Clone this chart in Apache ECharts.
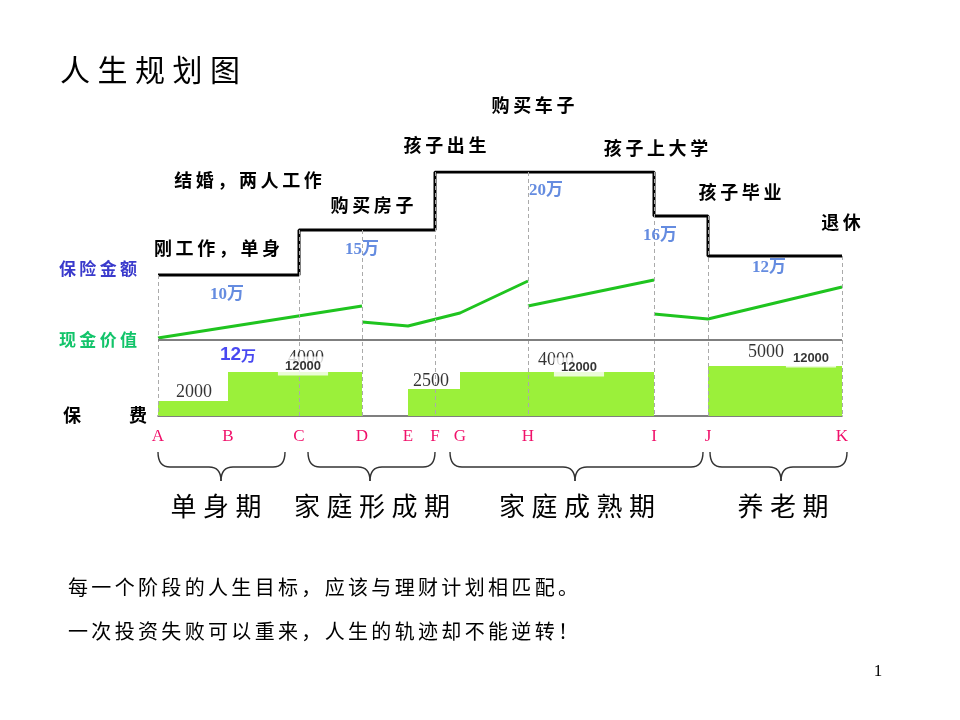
<!DOCTYPE html>
<html><head><meta charset="utf-8">
<script src="https://cdn.jsdelivr.net/npm/echarts@6/dist/echarts.min.js"></script>
<style>html,body{margin:0;padding:0;background:#fff}#c{width:960px;height:720px}</style>
</head><body><div id="c"></div>
<script>
// ---- data (schematic heights) ----
const letters = ['A','B','C','D','E','F','G','H','I','J','K'];
const letterX = [0,70,141,204,250,277,302,370,496,550,684];

// 保险金额 (insurance amount) steps
const insuranceAt = ['A','C','F','I','J','K'];
const insuranceLevel = [141,186,244,200,160,160];
const insuranceLabels = ['10万','15万','20万','16万','12万'];

// 现金价值 (cash value) segments
const cashSeg1 = [['A',78],['D',110]];
const cashSeg2 = [['D',94],['E',90],['G',103],['H',135]];
const cashSeg3 = [['H',110],['I',136]];
const cashSeg4 = [['I',102],['J',97],['K',129]];
const cashBaseline = 76;

// 保费 (premium) blocks
const premiumFrom = ['A','B','E','G','J'];
const premiumTo   = ['B','D','G','I','K'];
const premiumValue = [15,44,27,44,50];
const premiumTexts = ['2000','4000','12000','2500','4000','12000','5000','12000'];

const dashedAt = ['A','C','D','F','H','I','J','K'];

// ---- helpers ----
const X = l => letterX[letters.indexOf(l)];
const sp = (s, c) => s.split('').join(c);
const CJK = "'Noto Sans CJK SC', sans-serif";
const SERIF = "'Liberation Serif', 'Noto Sans CJK SC', serif";

function levelAt(x){
  let best = 0;
  for (let i=0;i<insuranceAt.length;i++){
    const xi = X(insuranceAt[i]);
    const xn = i+1<insuranceAt.length ? X(insuranceAt[i+1]) : xi;
    if (x >= xi && x <= xn) best = Math.max(best, insuranceLevel[i]);
    if (x === xi && i>0) best = Math.max(best, insuranceLevel[i-1]);
  }
  return best;
}

// annotation placements (layout, in axis units)
const insLabelPos = [[69,121],[204,166],[388,225],[502,180],[611,148]];
const premBackIdx = [0,1,3,4,6];
const premBackPos = [[36,24],[148,58],[273,35],[398,56],[608,64]];
const premFrontIdx = [2,5,7];
const premFrontPos = [[145,50],[421,49],[653,58]];

function T(text, x, y, font, fill, align){
  return {type:'text', x:x, y:y, z:10, style:{text:text, font:font, fill:fill,
    textAlign: align||'center', textVerticalAlign:'middle'}};
}
function brace(x1, x2, m){
  const y0=452, y1=467, y2=481, r=12;
  const st = {stroke:'#333', lineWidth:1.4, fill:null};
  return {type:'group', children:[
    {type:'bezierCurve', shape:{x1:x1,y1:y0,x2:x1+r,y2:y1,cpx1:x1,cpy1:y1}, style:st},
    {type:'line', shape:{x1:x1+r,y1:y1,x2:m-r,y2:y1}, style:st},
    {type:'bezierCurve', shape:{x1:m-r,y1:y1,x2:m,y2:y2,cpx1:m,cpy1:y1}, style:st},
    {type:'bezierCurve', shape:{x1:m,y1:y2,x2:m+r,y2:y1,cpx1:m,cpy1:y1}, style:st},
    {type:'line', shape:{x1:m+r,y1:y1,x2:x2-r,y2:y1}, style:st},
    {type:'bezierCurve', shape:{x1:x2-r,y1:y1,x2:x2,y2:y0,cpx1:x2,cpy1:y1}, style:st}
  ]};
}

const chart = echarts.init(document.getElementById('c'), null, {renderer:'canvas'});
const cashSeries = [cashSeg1,cashSeg2,cashSeg3,cashSeg4].map((seg,i)=>{
  const s = {
    type:'line', z:4, symbol:'none', silent:true,
    data: seg.map(p=>[X(p[0]), p[1]]),
    lineStyle:{color:'#1fc41f', width:3}
  };
  if (i===0) s.markLine = {silent:true, symbol:'none', label:{show:false},
    lineStyle:{color:'#7f7f7f', width:2, type:'solid'}, data:[{yAxis:cashBaseline}]};
  return s;
});

chart.setOption({
  animation:false,
  backgroundColor:'#fff',
  grid:{left:158, right:118, top:172, bottom:304, containLabel:false},
  xAxis:{type:'value', min:0, max:684,
    axisLine:{show:true, onZero:false, lineStyle:{color:'#555', width:1.5}},
    axisTick:{show:false}, splitLine:{show:false},
    axisLabel:{customValues:letterX, margin:12, color:'#f0106a', fontFamily:SERIF, fontSize:17,
      formatter:v=>letters[letterX.indexOf(v)] || ''}},
  yAxis:{type:'value', min:0, max:244, show:false},
  series:[
    {type:'custom', z:1, silent:true,
     data: premiumFrom.map((f,i)=>[X(f), X(premiumTo[i]), premiumValue[i]]),
     encode:{x:[0,1], y:2},
     renderItem:(params, api)=>{
       const p0 = api.coord([api.value(0), api.value(2)]);
       const p1 = api.coord([api.value(1), 0]);
       return {type:'rect', shape:{x:p0[0], y:p0[1], width:p1[0]-p0[0], height:p1[1]-p0[1]},
         style:{fill:'#9bf03a'}};
     }},
    {type:'line', z:3, step:'end', symbol:'none', silent:true,
     data: insuranceAt.map((l,i)=>[X(l), insuranceLevel[i]]),
     lineStyle:{color:'#000', width:3},
     markLine:{silent:true, symbol:'none', label:{show:false},
       lineStyle:{color:'#aaa', width:1, type:[4,3]},
       data: dashedAt.map(l=>[{coord:[X(l), levelAt(X(l))]},{coord:[X(l),0]}])}},
    ...cashSeries,
    {type:'scatter', z:6, symbolSize:0, silent:true,
     data: insuranceLabels.map((t,i)=>({value:insLabelPos[i], label:{formatter:t}})),
     label:{show:true, position:'inside', color:'#3f6fd8', fontFamily:SERIF, fontWeight:'bold', fontSize:17}},
    {type:'scatter', z:7, symbolSize:0, silent:true,
     data: premBackIdx.map((k,i)=>({value:premBackPos[i], label:{formatter:premiumTexts[k]}})),
     label:{show:true, position:'inside', color:'#000', fontFamily:SERIF, fontSize:18, padding:[1,2]}},
    {type:'scatter', z:8, symbolSize:0, silent:true,
     data: premFrontIdx.map((k,i)=>({value:premFrontPos[i], label:{formatter:premiumTexts[k]}})),
     label:{show:true, position:'inside', color:'#000', fontFamily:"'Liberation Sans', Arial, sans-serif", fontWeight:'bold', fontSize:13, backgroundColor:'#fff', padding:[3,7]}},
    {type:'scatter', z:8, symbolSize:0, silent:true,
     data:[{value:[80,61]}],
     label:{show:true, position:'inside', formatter:'{a|12}{b|万}',
       rich:{a:{color:'#1a1aee', fontFamily:"'Liberation Sans', Arial, sans-serif", fontWeight:'bold', fontSize:19},
             b:{color:'#1a1aee', fontFamily:CJK, fontWeight:'bold', fontSize:15}}}}
  ],
  graphic:[
    T(sp('人生规划图','\u2005'), 60, 70, `normal 30px ${CJK}`, '#000', 'left'),
    T(sp('购买车子','\u2009'), 533, 105, `bold 18px ${CJK}`, '#000'),
    T(sp('孩子出生','\u2009'), 445, 145, `bold 18px ${CJK}`, '#000'),
    T(sp('孩子上大学','\u2009'), 656, 148, `bold 18px ${CJK}`, '#000'),
    T(sp('结婚，两人工作','\u2009'), 248, 180, `bold 18px ${CJK}`, '#000'),
    T(sp('购买房子','\u2009'), 372, 205, `bold 18px ${CJK}`, '#000'),
    T(sp('孩子毕业','\u2009'), 740, 192, `bold 18px ${CJK}`, '#000'),
    T(sp('退休','\u2009'), 841, 222, `bold 18px ${CJK}`, '#000'),
    T(sp('刚工作，单身','\u2009'), 217, 248, `bold 18px ${CJK}`, '#000'),
    T(sp('保险金额','\u2009'), 98, 269, `bold 17px ${CJK}`, '#3a3acc'),
    T(sp('现金价值','\u2009'), 98, 340, `bold 17px ${CJK}`, '#12c46a'),
    T('保', 72, 415, `bold 18px ${CJK}`, '#000'),
    T('费', 138, 415, `bold 18px ${CJK}`, '#000'),
    brace(158, 285, 221),
    brace(308, 435, 370),
    brace(450, 703, 575),
    brace(710, 847, 781),
    T(sp('单身期','\u2005'), 216, 506, `normal 26px ${CJK}`, '#000'),
    T(sp('家庭形成期','\u2005'), 372, 506, `normal 26px ${CJK}`, '#000'),
    T(sp('家庭成熟期','\u2005'), 577, 506, `normal 26px ${CJK}`, '#000'),
    T(sp('养老期','\u2005'), 783, 506, `normal 26px ${CJK}`, '#000'),
    T(sp('每一个阶段的人生目标，应该与理财计划相匹配。','\u2006'), 68, 587, `normal 20px ${CJK}`, '#000', 'left'),
    T(sp('一次投资失败可以重来，人生的轨迹却不能逆转！','\u2006'), 68, 631, `normal 20px ${CJK}`, '#000', 'left'),
    T('1', 878, 672, `normal 17px ${SERIF}`, '#000')
  ]
});
</script></body></html>
